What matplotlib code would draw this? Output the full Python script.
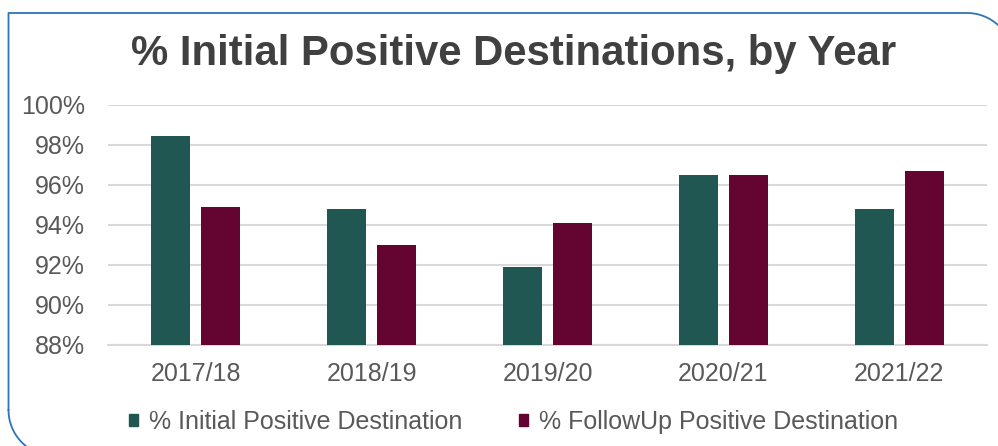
import numpy as np
import matplotlib
matplotlib.use("Agg")
import matplotlib.pyplot as plt
from matplotlib.patches import Patch

years = ["2017/18", "2018/19", "2019/20", "2020/21", "2021/22"]
initial = [98.47, 94.8, 91.9, 96.5, 94.8]
followup = [94.9, 93.0, 94.1, 96.5, 96.7]
yticks = [88, 90, 92, 94, 96, 98, 100]

green = "#215752"
maroon = "#640431"
W, H = 998, 446

plt.rcParams['font.family'] = ['Liberation Sans', 'DejaVu Sans']
fig = plt.figure(figsize=(W / 100, H / 100), dpi=100)

# border: square top-left, rounded top-right and bottom-left (runs off the image)
bg = fig.add_axes([0, 0, 1, 1])
bg.set_xlim(0, W)
bg.set_ylim(H, 0)
bg.axis('off')
r = 46
a = np.linspace(-np.pi / 2, 0, 30)
top = np.vstack([[8.5, 410], [8.5, 13], [967, 13]])
tr = np.column_stack([967 + r * np.cos(a), 59 + r * np.sin(a)])
bg.plot(np.r_[top[:, 0], tr[:, 0], 1013], np.r_[top[:, 1], tr[:, 1], 480],
        color="#2e75b6", lw=1.3, clip_on=False)
b = np.linspace(np.pi, np.pi / 2, 30)
bl = np.column_stack([54.5 + r * np.cos(b), 410 + r * np.sin(b)])
bg.plot(np.r_[bl[:, 0], 1013], np.r_[bl[:, 1], 456], color="#2e75b6", lw=1.3, clip_on=False)

left, right, top_px, bottom = 108, 987, 105, 345
ax = fig.add_axes([left / W, 1 - bottom / H, (right - left) / W, (bottom - top_px) / H])
x = np.arange(len(years))
bw = 0.222
off = 0.142
ax.bar(x - off, initial, bw, color=green, zorder=3)
ax.bar(x + off, followup, bw, color=maroon, zorder=3)
ax.set_xlim(-0.5, len(years) - 0.5)
ax.set_ylim(88, 100)
ax.set_yticks(yticks)
ax.set_yticklabels([f"{v}%" for v in yticks])
ax.set_xticks(x)
ax.set_xticklabels(years)
ax.grid(axis='y', color="#d9d9d9", linewidth=1.5, zorder=0)
for s in ["top", "right", "left"]:
    ax.spines[s].set_visible(False)
ax.spines["bottom"].set_color("#d9d9d9")
ax.spines["bottom"].set_linewidth(1.5)
ax.tick_params(axis='y', length=0, pad=16.5, labelsize=18, labelcolor="#595959")
ax.tick_params(axis='x', length=0, pad=12, labelsize=18, labelcolor="#595959")

fig.text(513.5 / W, 1 - 65 / H, "% Initial Positive Destinations, by Year", ha='center',
         va='baseline', fontsize=30.2, fontweight='bold', color="#404040")

handles = [Patch(color=green), Patch(color=maroon)]
leg = fig.legend(handles, ["% Initial Positive Destination", "% FollowUp Positive Destination"],
                 loc='center', bbox_to_anchor=(513.5 / W, 1 - 422 / H), ncol=2, frameon=False,
                 fontsize=18, handlelength=0.36, handleheight=0.36, handletextpad=0.44,
                 columnspacing=2.24, borderpad=0)
for t in leg.get_texts():
    t.set_color("#595959")

fig.savefig("out.png", dpi=100)
